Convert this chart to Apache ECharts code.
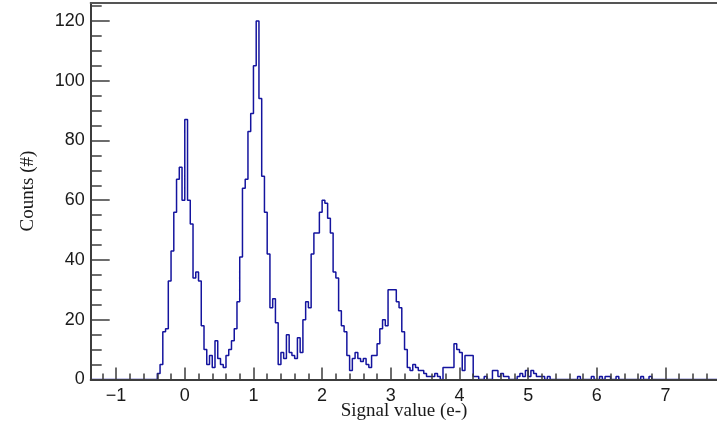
<!DOCTYPE html>
<html><head><meta charset="utf-8">
<script src="https://cdn.jsdelivr.net/npm/echarts@6/dist/echarts.min.js"></script>
<style>html,body{margin:0;padding:0;background:#fff}#c{width:717px;height:425px}</style>
</head><body><div id="c"></div>
<script>
// ---- data (histogram: left edge of first bin, bin width, counts per bin) ----
const binLow = -0.40;
const binWidth = 0.04;
const counts = [
  2,5,16,17,33,43,56,67,71,60,
  87,60,52,34,36,33,18,10,5,8,
  4,13,7,5,4,8,10,13,17,26,
  41,64,67,83,89,105,120,94,68,56,
  42,24,27,19,5,9,7,15,9,8,
  7,14,9,20,26,24,42,49,49,56,
  60,59,54,49,36,34,23,18,16,8,
  3,7,9,7,6,7,5,4,8,8,
  12,17,20,18,30,30,30,26,24,16,
  10,4,3,5,4,3,3,2,1,1,
  1,2,1,0,4,4,4,4,12,10,
  9,3,8,8,8,1,1,0,0,1,
  0,0,3,3,1,2,1,1,0,0,
  0,1,2,1,3,1,3,2,1,1,
  1,0,1,0,0,0,0,0,0,0,
  0,0,0,1,0,0,0,0,1,0,
  0,1,0,1,1,0,0,1,0,0,
  0,0,0,0,0,0,1,0,0,1
];
const xMajorTicks = [-1,0,1,2,3,4,5,6,7];
const yMajorTicks = [0,20,40,60,80,100,120];
const xTitle = 'Signal value (e-)';
const yTitle = 'Counts (#)';
const xRange = [-1.37, 7.75];
const yRange = [0, 126];

// ---- build step points ----
const r3 = v => Math.round(v * 10000) / 10000;
const pts = [[xRange[0], 0], [binLow, 0]];
counts.forEach((c, i) => pts.push([r3(binLow + i * binWidth), c]));
pts.push([r3(binLow + counts.length * binWidth), 0]);
pts.push([xRange[1], 0]);

const xMinor = [];
for (let v = -1.4; v <= 7.8; v += 0.2) xMinor.push(r3(v));
const yMinor = [];
for (let v = 0; v <= 125; v += 5) yMinor.push(v);

const axisCol = '#3c3c3c';
const textCol = '#1a1a1a';
const chart = echarts.init(document.getElementById('c'), null, {renderer: 'canvas'});
chart.setOption({
  animation: false,
  backgroundColor: '#ffffff',
  grid: {left: 90.7, right: 0, top: 3, bottom: 45.5},
  xAxis: [
    {type: 'value', min: xRange[0], max: xRange[1], position: 'bottom', z: 5,
     axisLine: {show: true, onZero: false, lineStyle: {color: axisCol, width: 2}},
     axisTick: {show: true, inside: true, length: 12, customValues: xMajorTicks, lineStyle: {color: axisCol, width: 1.5}},
     axisLabel: {show: true, customValues: xMajorTicks, margin: 8, fontFamily: 'Liberation Sans', fontSize: 18, color: textCol,
       formatter: v => String(v).replace('-', '\u2212')},
     splitLine: {show: false}},
    {type: 'value', min: xRange[0], max: xRange[1], position: 'bottom', offset: 0, z: 5,
     axisLine: {show: false, onZero: false},
     axisTick: {show: true, inside: true, length: 6, customValues: xMinor, lineStyle: {color: axisCol, width: 1.5}},
     axisLabel: {show: false}, splitLine: {show: false}},
    {type: 'value', min: xRange[0], max: xRange[1], position: 'top', offset: 0, z: 5,
     axisLine: {show: true, onZero: false, lineStyle: {color: '#555', width: 2}},
     axisTick: {show: false}, axisLabel: {show: false}, splitLine: {show: false}}
  ],
  yAxis: [
    {type: 'value', min: yRange[0], max: yRange[1], position: 'left', z: 5,
     axisLine: {show: true, onZero: false, lineStyle: {color: axisCol, width: 2}},
     axisTick: {show: true, inside: true, length: 19, customValues: yMajorTicks, lineStyle: {color: axisCol, width: 1.5}},
     axisLabel: {show: true, customValues: yMajorTicks, margin: 6, fontFamily: 'Liberation Sans', fontSize: 18, color: textCol},
     splitLine: {show: false}},
    {type: 'value', min: yRange[0], max: yRange[1], position: 'left', offset: 0, z: 5,
     axisLine: {show: false, onZero: false},
     axisTick: {show: true, inside: true, length: 11, customValues: yMinor, lineStyle: {color: axisCol, width: 1.5}},
     axisLabel: {show: false}, splitLine: {show: false}}
  ],
  series: [{
    type: 'line', xAxisIndex: 0, yAxisIndex: 0, step: 'end', data: pts,
    showSymbol: false, symbol: 'none', silent: true, z: 2,
    lineStyle: {color: '#14149e', width: 1.5}
  }],
  graphic: [
    {type: 'text', x: 404, y: 411,
     style: {text: xTitle, textAlign: 'center', textVerticalAlign: 'middle', font: '19px "Liberation Serif"', fill: textCol}},
    {type: 'text', x: 28, y: 191, rotation: Math.PI / 2,
     style: {text: yTitle, textAlign: 'center', textVerticalAlign: 'middle', font: '19px "Liberation Serif"', fill: textCol}}
  ]
});
</script></body></html>
